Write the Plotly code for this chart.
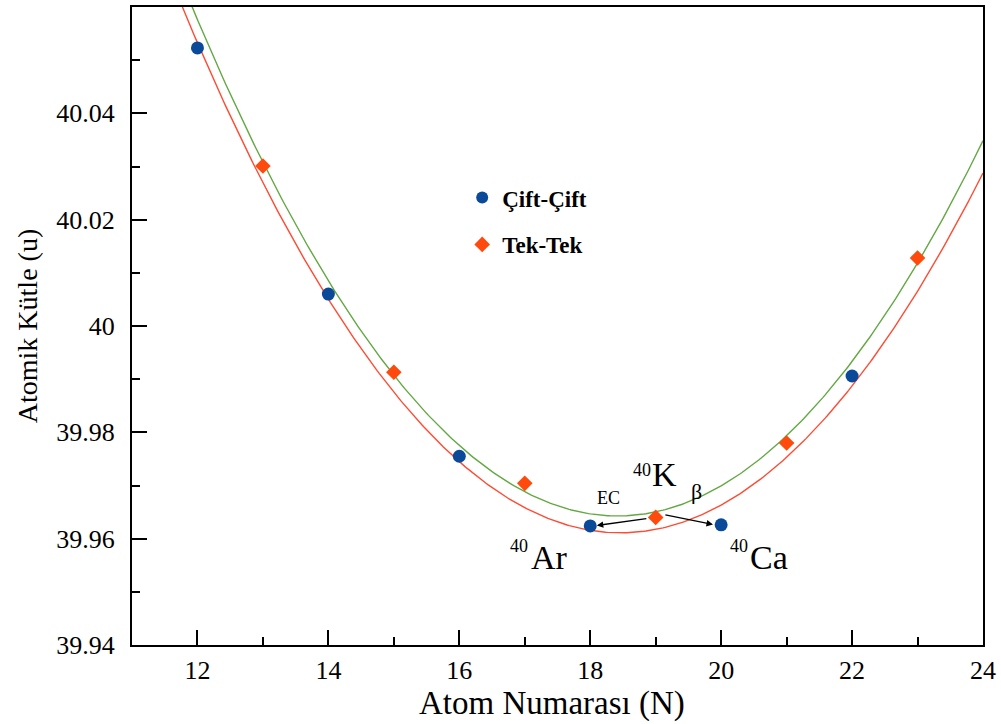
import numpy as np
import plotly.graph_objects as go

# ---- data ----
even_N = [12, 14, 16, 18, 20, 22]
even_mass = [40.0523, 40.0060, 39.9755, 39.9624, 39.9626, 39.9906]
odd_N = [13, 15, 17, 19, 21, 23]
odd_mass = [40.0301, 39.9913, 39.9704, 39.9640, 39.9780, 40.0128]
even_name = "Çift-Çift"
odd_name = "Tek-Tek"
x_title = "Atom Numarası (N)"
y_title = "Atomik Kütle (u)"
x_tickvals = [12, 14, 16, 18, 20, 22, 24]
y_tickvals = [39.94, 39.96, 39.98, 40.00, 40.02, 40.04]
y_ticktext = ["39.94", "39.96", "39.98", "40", "40.02", "40.04"]

# quadratic (mass parabola) fits of each group
xf = np.linspace(11, 24, 400)
fit_even = np.polyval(np.polyfit(even_N, even_mass, 2), xf)
fit_odd = np.polyval(np.polyfit(odd_N, odd_mass, 2), xf)

BLUE = "#0B4A98"
ORANGE = "#FF4A0E"
RED_LINE = "#FF4B33"
GREEN_LINE = "#64A844"
SERIF = "Liberation Serif, Times New Roman, serif"

fig = go.Figure()
fig.add_trace(go.Scatter(x=xf, y=fit_even, mode="lines", line=dict(color=RED_LINE, width=1.4),
                         showlegend=False, hoverinfo="skip"))
fig.add_trace(go.Scatter(x=xf, y=fit_odd, mode="lines", line=dict(color=GREEN_LINE, width=1.4),
                         showlegend=False, hoverinfo="skip"))
fig.add_trace(go.Scatter(x=even_N, y=even_mass, mode="markers", name="<b>" + even_name + "</b>",
                         legendgroup="a",
                         marker=dict(symbol="circle", size=13, color=BLUE)))
fig.add_trace(go.Scatter(x=odd_N, y=odd_mass, mode="markers", name="<b>" + odd_name + "</b>",
                         legendgroup="b",
                         marker=dict(symbol="diamond", size=12, color=ORANGE)))

axis_common = dict(
    showline=True, linecolor="black", linewidth=2, mirror=True,
    ticks="inside", ticklen=15, tickwidth=2, tickcolor="black",
    showgrid=False, zeroline=False,
    tickfont=dict(family=SERIF, size=26, color="black"),
)
fig.update_xaxes(range=[11, 24], tickvals=x_tickvals,
                 minor=dict(ticks="inside", ticklen=8, tickwidth=2, tickcolor="black", dtick=1, tick0=11),
                 ticklabelstandoff=1,
                 **axis_common)
fig.update_yaxes(range=[39.94, 40.06], tickvals=y_tickvals, ticktext=y_ticktext,
                 minor=dict(ticks="inside", ticklen=8, tickwidth=2, tickcolor="black", dtick=0.01, tick0=39.94),
                 title=dict(text=y_title, font=dict(family=SERIF, size=28, color="black"), standoff=10),
                 ticklabelstandoff=10,
                 **axis_common)

annots = []
def txt(x, y, s, size, xanchor="center"):
    annots.append(dict(x=x, y=y, xref="x", yref="y", text=s, showarrow=False,
                       font=dict(family=SERIF, size=size, color="black"),
                       xanchor=xanchor, yanchor="middle"))

txt(19.133, 39.9720, "K", 34)
txt(18.797, 39.9730, "40", 18)
txt(19.630, 39.9689, "β", 22)
txt(18.277, 39.9677, "EC", 18)
txt(17.375, 39.9565, "Ar", 34)
txt(16.908, 39.9586, "40", 18)
txt(20.730, 39.9564, "Ca", 34)
txt(20.272, 39.9586, "40", 18)

# x-axis title placed as text below the tick labels
annots.append(dict(x=0.493, y=-0.091, xref="paper", yref="paper", text=x_title, showarrow=False,
                   font=dict(family=SERIF, size=33, color="black"),
                   xanchor="center", yanchor="middle"))

annots.append(dict(x=18.10, y=39.96248, ax=18.88, ay=39.9638, xref="x", yref="y",
                   axref="x", ayref="y", showarrow=True, arrowhead=2, arrowsize=1,
                   arrowwidth=1.3, arrowcolor="black", text=""))
annots.append(dict(x=19.875, y=39.96266, ax=19.125, ay=39.96454, xref="x", yref="y",
                   axref="x", ayref="y", showarrow=True, arrowhead=2, arrowsize=1,
                   arrowwidth=1.3, arrowcolor="black", text=""))

fig.update_layout(
    width=1001, height=724,
    margin=dict(l=132, r=18, t=5, b=79),
    paper_bgcolor="white", plot_bgcolor="white",
    font=dict(family=SERIF, color="black"),
    annotations=annots,
    legend=dict(x=0.388, y=0.735, xanchor="left", yanchor="top",
                font=dict(family=SERIF, size=23, color="black"),
                bgcolor="rgba(0,0,0,0)", tracegroupgap=14, itemsizing="constant"),
)

fig.write_html("out.html", config={"displayModeBar": False},
               post_script="document.body.style.margin='0px';")
